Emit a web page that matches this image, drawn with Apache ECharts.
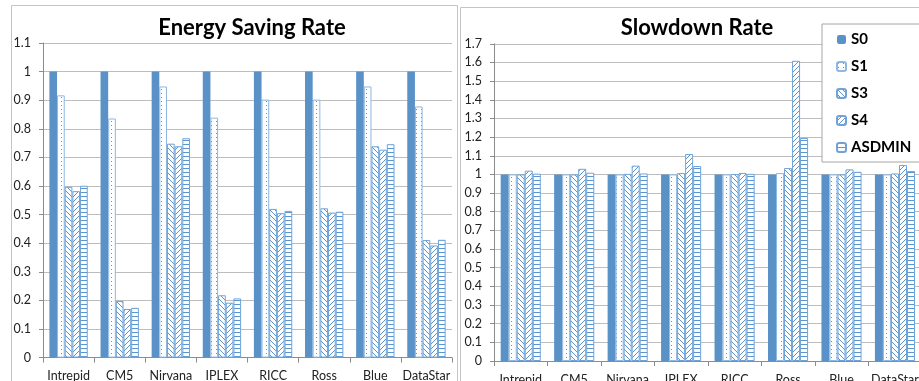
<!DOCTYPE html>
<html>
<head>
<meta charset="utf-8">
<script src="https://cdn.jsdelivr.net/npm/echarts@6/dist/echarts.min.js"></script>
<style>
  html, body { margin: 0; padding: 0; background: #fff; }
  #chart { width: 919px; height: 381px; }
</style>
</head>
<body>
<div id="chart"></div>
<script>
// Workload traces on the x axis
const categories = ['Intrepid', 'CM5', 'Nirvana', 'IPLEX', 'RICC', 'Ross', 'Blue', 'DataStar'];
const seriesNames = ['S0', 'S1', 'S3', 'S4', 'ASDMIN'];

// Energy saving rate per strategy
const energyS0 = [1, 1, 1, 1, 1, 1, 1, 1];
const energyS1 = [0.917, 0.836, 0.948, 0.839, 0.902, 0.902, 0.948, 0.878];
const energyS3 = [0.597, 0.198, 0.748, 0.218, 0.520, 0.522, 0.739, 0.411];
const energyS4 = [0.582, 0.170, 0.739, 0.192, 0.505, 0.507, 0.727, 0.392];
const energyASDMIN = [0.601, 0.174, 0.767, 0.207, 0.513, 0.510, 0.746, 0.412];

// Slowdown rate per strategy
const slowS0 = [1, 1, 1, 1, 1, 1, 1, 1];
const slowS1 = [1.0, 1.0, 1.0, 1.0, 1.0, 1.007, 1.0, 1.0];
const slowS3 = [1.0, 1.0, 1.003, 1.007, 1.002, 1.034, 1.0, 1.005];
const slowS4 = [1.02, 1.03, 1.047, 1.109, 1.008, 1.609, 1.027, 1.05];
const slowASDMIN = [1.004, 1.009, 1.005, 1.045, 1.003, 1.195, 1.014, 1.018];

// Axis ranges
const energyAxis = { min: 0, max: 1.1, step: 0.1 };
const slowAxis = { min: 0, max: 1.7, step: 0.1 };

const energyData = [energyS0, energyS1, energyS3, energyS4, energyASDMIN];
const slowData = [slowS0, slowS1, slowS3, slowS4, slowASDMIN];

const SOLID = '#5A92C8';
const LINE = '#5B95D0';
const EDGE = '#6FA3D8';
const FONT = 'Lato, "Open Sans", sans-serif';

// Small repeating tiles used as bar fills
function tile(w, h, draw) {
  const c = document.createElement('canvas');
  c.width = w; c.height = h;
  const ctx = c.getContext('2d');
  ctx.fillStyle = '#ffffff';
  ctx.fillRect(0, 0, w, h);
  ctx.fillStyle = LINE;
  draw(ctx, w, h);
  return { image: c, repeat: 'repeat' };
}
const dotFill = tile(5, 4, (ctx) => { ctx.fillRect(1, 1, 1, 1); });
const backDiagFill = tile(5, 5, (ctx, n) => { for (let i = 0; i < n; i++) ctx.fillRect(i, i, 1, 1); });
const fwdDiagFill = tile(5, 5, (ctx, n) => { for (let i = 0; i < n; i++) ctx.fillRect(n - 1 - i, i, 1, 1); });
const hLineFill = tile(4, 4, (ctx, w) => { ctx.fillRect(0, 0, w, 1); });

const styles = [
  { color: SOLID, borderColor: SOLID, borderWidth: 0 },
  { color: dotFill, borderColor: '#8DB8E2', borderWidth: 1 },
  { color: backDiagFill, borderColor: EDGE, borderWidth: 1 },
  { color: fwdDiagFill, borderColor: EDGE, borderWidth: 1 },
  { color: hLineFill, borderColor: EDGE, borderWidth: 1 }
];

function fmt(v) { return String(+v.toFixed(1)); }

function xAxisFor(gridIndex) {
  return {
    type: 'category', gridIndex, data: categories,
    axisLine: { lineStyle: { color: '#8C8C8C', width: 1 } },
    axisTick: { show: true, length: 5, lineStyle: { color: '#8C8C8C' } },
    axisLabel: { color: '#222', fontSize: 12.5, fontFamily: FONT, margin: 12, interval: 0 }
  };
}
function yAxisFor(gridIndex, r) {
  return {
    type: 'value', gridIndex, min: r.min, max: r.max, interval: r.step,
    axisLine: { show: true, lineStyle: { color: '#8C8C8C', width: 1 } },
    axisTick: { show: true, length: 4, lineStyle: { color: '#8C8C8C' } },
    splitLine: { lineStyle: { color: '#BDBDBD', width: 1 } },
    axisLabel: { color: '#222', fontSize: 12.5, fontFamily: FONT, margin: 12, formatter: fmt }
  };
}

const series = [];
[energyData, slowData].forEach((group, gi) => {
  group.forEach((vals, si) => {
    series.push({
      name: seriesNames[si], type: 'bar',
      xAxisIndex: gi, yAxisIndex: gi,
      data: vals,
      barGap: 0, barCategoryGap: '25%',
      itemStyle: styles[si],
      emphasis: { disabled: true },
      animation: false
    });
  });
});

const chart = echarts.init(document.getElementById('chart'), null, { renderer: 'canvas' });
chart.setOption({
  backgroundColor: '#ffffff',
  animation: false,
  title: [
    { text: 'Energy Saving Rate', left: 247, top: 12, textAlign: 'center',
      textStyle: { fontSize: 22, fontWeight: 'bold', fontFamily: FONT, color: '#000' } },
    { text: 'Slowdown Rate', left: 692, top: 12, textAlign: 'center',
      textStyle: { fontSize: 22, fontWeight: 'bold', fontFamily: FONT, color: '#000' } }
  ],
  graphic: [
    { type: 'rect', z: -10, shape: { x: 11.5, y: 5.5, width: 446, height: 420 },
      style: { fill: 'none', stroke: '#C4C4C4', lineWidth: 1 } },
    { type: 'rect', z: -10, shape: { x: 460.5, y: 7.5, width: 500, height: 420 },
      style: { fill: 'none', stroke: '#C4C4C4', lineWidth: 1 } }
  ],
  legend: {
    data: seriesNames, orient: 'vertical',
    left: 822, top: 24,
    padding: [8, 100, 7, 14],
    itemWidth: 9, itemHeight: 9, itemGap: 12,
    backgroundColor: '#ffffff', borderColor: '#A6A6A6', borderWidth: 1, borderRadius: 0,
    textStyle: { fontSize: 15, fontWeight: 'bold', fontFamily: FONT, color: '#000', lineHeight: 14 },
    selectedMode: false, z: 10
  },
  grid: [
    { left: 43, top: 43, width: 409, height: 314.6, outerBoundsMode: 'none', containLabel: false },
    { left: 494, top: 43.8, width: 427.7, height: 317.2, outerBoundsMode: 'none', containLabel: false }
  ],
  xAxis: [xAxisFor(0), xAxisFor(1)],
  yAxis: [yAxisFor(0, energyAxis), yAxisFor(1, slowAxis)],
  series
});
</script>
</body>
</html>
